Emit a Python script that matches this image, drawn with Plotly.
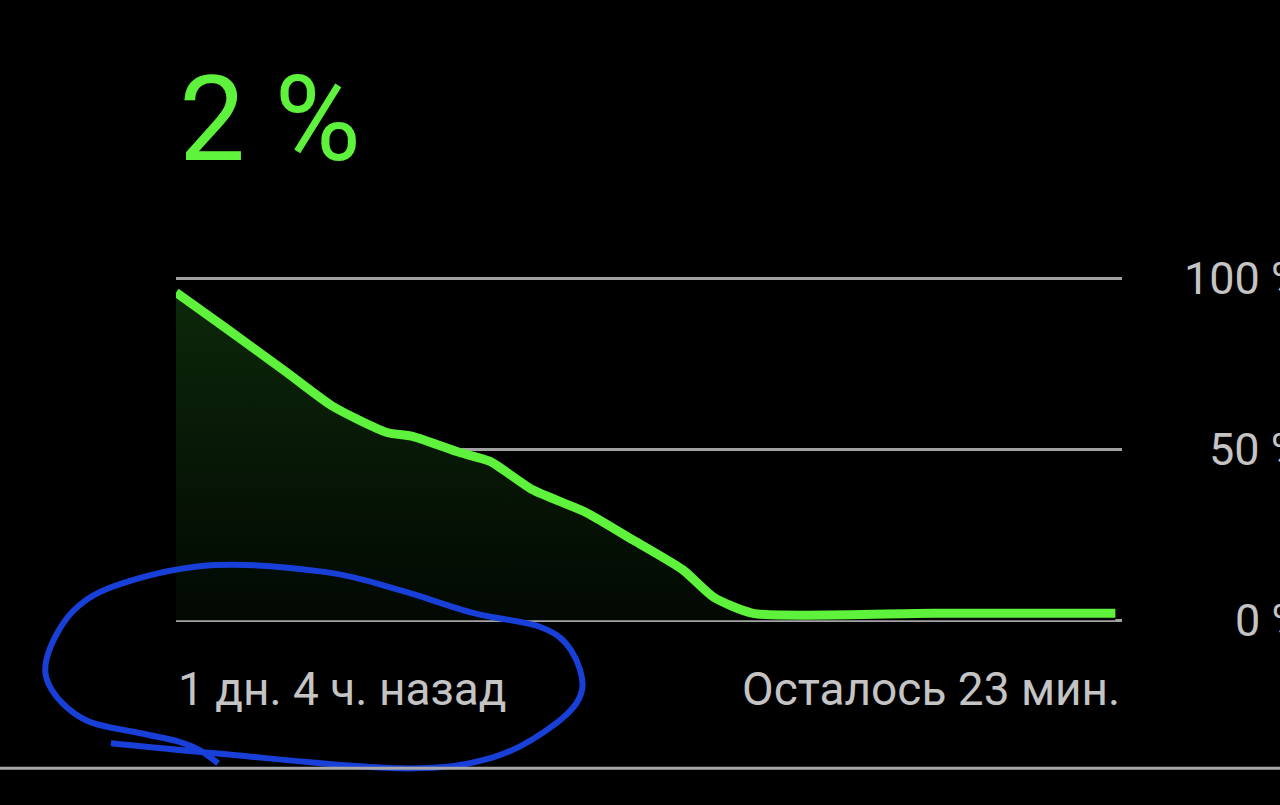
import plotly.graph_objects as go

# ---- data ----
time_pos = [0, 5.4, 11.7, 16.6, 22.3, 25.1, 30.0, 33.2, 37.7, 43.4, 48.3, 53.6, 56.8, 61.0, 80.0, 99.3]
battery = [96, 85.3, 72.6, 62.6, 55.0, 53.8, 49.1, 46.5, 38.2, 31.5, 23.5, 14.7, 6.8, 2.0, 2.0, 2.0]
y_ticks = [0, 50, 100]
y_tick_labels = ["0 %", "50 %", "100 %"]
title_text = "2 %"
left_label = "1 дн. 4 ч. назад"
right_label = "Осталось 23 мин."

W, H = 1280, 805
L, R = 176, 1122          # plot area x in px
Y100, Y0 = 279, 620       # pixel rows for 100 and 0
ppu = (Y0 - Y100) / 100.0
YMIN, YMAX = -2, 102
top = Y100 - (YMAX - 100) * ppu
bot = Y0 + (0 - YMIN) * ppu

def px2paper(px, py):
    return (px - L) / (R - L), (bot - py) / (bot - top)

GREEN = "#5ef23c"
GREY_TXT = "#c4c4c4"
GRID = "#a2a2a2"
FONT = "Roboto"

fig = go.Figure()
fig.add_trace(go.Scatter(
    x=time_pos, y=battery, mode="lines",
    line=dict(color=GREEN, width=9, shape="spline", smoothing=0.6),
    fill="tozeroy",
    fillgradient=dict(type="vertical",
                      colorscale=[[0, "rgb(2,8,2)"], [1, "rgb(12,40,10)"]]),
    hoverinfo="skip", showlegend=False,
))

annotations = []
for v, t in zip(y_ticks, y_tick_labels):
    annotations.append(dict(x=px2paper(1306, 0)[0], y=v, xref="paper", yref="y", text=t,
                            showarrow=False, xanchor="right", yanchor="middle",
                            font=dict(family=FONT, size=45, color=GREY_TXT)))
annotations.append(dict(x=0.0, y=px2paper(0, 689)[1], xref="paper", yref="paper",
                        text=left_label, showarrow=False, xanchor="left", yanchor="middle",
                        font=dict(family=FONT, size=46, color=GREY_TXT)))
annotations.append(dict(x=1.0, y=px2paper(0, 689)[1], xref="paper", yref="paper",
                        text=right_label, showarrow=False, xanchor="right", yanchor="middle",
                        font=dict(family=FONT, size=46, color=GREY_TXT)))
annotations.append(dict(x=px2paper(177, 0)[0], y=px2paper(0, 120)[1], xref="paper", yref="paper",
                        text=title_text, showarrow=False, xanchor="left", yanchor="middle",
                        font=dict(family=FONT, size=118, color=GREEN)))

# hand-drawn blue loop (pixel points -> paper coords, Catmull-Rom smoothed)
loop_px = [(111, 743), (215, 753), (400, 768), (493, 757), (556, 723), (582, 690),
           (571, 650), (541, 627), (474, 613), (400, 590), (326, 572), (215, 565),
           (123, 583), (74, 610), (47, 657), (52, 690), (86, 720), (141, 733),
           (178, 741), (200, 750), (218, 763)]
pts = [px2paper(*p) for p in loop_px]
path = "M {:.5f},{:.5f}".format(*pts[0])
for i in range(len(pts) - 1):
    p0 = pts[i - 1] if i > 0 else pts[i]
    p1, p2 = pts[i], pts[i + 1]
    p3 = pts[i + 2] if i + 2 < len(pts) else p2
    c1 = (p1[0] + (p2[0] - p0[0]) / 6, p1[1] + (p2[1] - p0[1]) / 6)
    c2 = (p2[0] - (p3[0] - p1[0]) / 6, p2[1] - (p3[1] - p1[1]) / 6)
    path += " C {:.5f},{:.5f} {:.5f},{:.5f} {:.5f},{:.5f}".format(*c1, *c2, *p2)

shapes = [
    dict(type="path", path=path, xref="paper", yref="paper",
         line=dict(color="#1840d8", width=6)),
    dict(type="line", xref="paper", yref="paper",
         x0=px2paper(0, 0)[0], x1=px2paper(W, 0)[0],
         y0=px2paper(0, 768)[1], y1=px2paper(0, 768)[1],
         line=dict(color="#a8a8a8", width=3)),
]

fig.update_layout(
    width=W, height=H,
    margin=dict(l=L, r=W - R, t=top, b=H - bot, pad=0),
    paper_bgcolor="black", plot_bgcolor="black",
    xaxis=dict(range=[0, 100], showgrid=False, zeroline=False, showticklabels=False,
               showline=False, ticks="", fixedrange=True),
    yaxis=dict(range=[YMIN, YMAX], tickvals=y_ticks, showticklabels=False,
               showgrid=True, gridcolor=GRID, gridwidth=3, zeroline=False,
               showline=False, ticks="", fixedrange=True),
    annotations=annotations, shapes=shapes,
    showlegend=False,
)

fig.write_html(
    "out.html",
    config={"displayModeBar": False},
    post_script="document.body.style.margin='0';document.body.style.background='black';"
                "document.body.style.overflow='hidden';window.dispatchEvent(new Event('resize'));",
)
